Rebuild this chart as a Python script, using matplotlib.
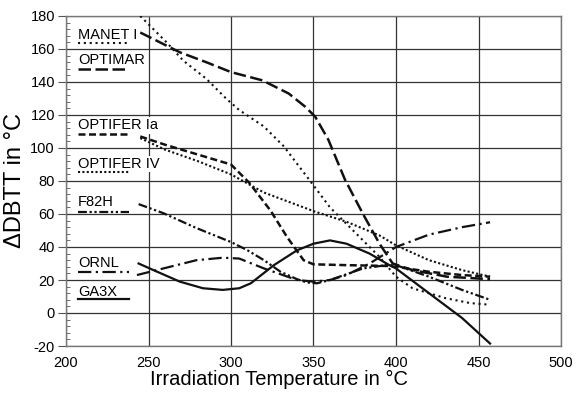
import matplotlib
matplotlib.use('Agg')
import matplotlib.pyplot as plt
from matplotlib.ticker import MultipleLocator

plt.rcParams['font.family'] = ['Liberation Sans', 'DejaVu Sans']
plt.rcParams['axes.unicode_minus'] = False

# curves (temperature in degC, delta DBTT in degC)
manet_t = [245, 251, 261, 271, 285, 297, 305, 320, 332, 348, 360, 372, 384, 390, 400, 410, 430, 445, 457]
manet_v = [180, 174, 164, 153, 142, 130, 123, 113, 101, 80, 64, 52, 40, 34, 22, 15, 9, 6, 5]

optimar_t = [245, 255, 269, 285, 300, 319, 335, 345, 351, 359, 369, 380, 390, 398, 410, 431, 457]
optimar_v = [170, 165, 158, 152, 146, 141, 133, 125, 119, 105, 81, 60, 42, 30, 26, 22, 20.5]

optifer_ia_t = [245, 260, 280, 300, 311, 324, 334, 344, 350, 370, 395, 400, 420, 440, 457]
optifer_ia_v = [107, 102, 96, 90, 79, 62, 46, 32, 29.5, 29, 28.5, 28, 25, 23, 22]

optifer_iv_t = [245, 260, 280, 300, 320, 340, 351, 370, 390, 400, 420, 440, 457]
optifer_iv_v = [106, 99, 92, 84, 73, 65.5, 61.4, 55.3, 47, 41, 32, 26, 22]

f82h_t = [244, 259, 279, 300, 310, 320, 330, 340, 346, 352, 360, 370, 380, 394, 400, 420, 440, 457]
f82h_v = [66, 60.5, 51.5, 43, 38, 32, 25, 20.5, 18.5, 18, 20, 23.5, 27, 29, 29, 22, 14, 8]

ornl_t = [243, 259, 279, 295, 305, 320, 330, 340, 350, 360, 370, 384, 400, 420, 440, 457]
ornl_v = [23, 27, 32, 33.5, 33, 27, 23.5, 20, 19, 20, 23, 30, 40, 47.5, 52, 55]

ga3x_t = [244, 253, 269, 283, 295, 305, 312, 326, 340, 350, 360, 370, 384, 396, 400, 420, 440, 457]
ga3x_v = [30, 26, 19, 15, 14, 15, 18, 29, 38, 42, 44, 42, 36, 29, 27, 12, -3, -18.5]

names = ['MANET I', 'OPTIMAR', 'OPTIFER Ia', 'OPTIFER IV', 'F82H', 'ORNL', 'GA3X']
curves = [(manet_t, manet_v), (optimar_t, optimar_v), (optifer_ia_t, optifer_ia_v),
          (optifer_iv_t, optifer_iv_v), (f82h_t, f82h_v), (ornl_t, ornl_v), (ga3x_t, ga3x_v)]

# line look and the position of each hand-made legend entry
styles = [dict(ls=(0, (1, 1.8)), lw=1.5),
          dict(ls=(0, (5, 1.8)), lw=1.8),
          dict(ls=(0, (2.8, 1.4)), lw=1.8),
          dict(ls=(0, (1, 1.1)), lw=1.5),
          dict(ls=(0, (4, 1.2, 1, 1.2, 1, 1.2)), lw=1.6),
          dict(ls=(0, (6, 2, 1, 2)), lw=1.6),
          dict(ls='-', lw=1.6)]
label_y = [168.5, 153.5, 113.8, 90.3, 67, 30.3, 12.7]
key_y = [163.5, 147.9, 108.3, 85.6, 61.4, 24.7, 8.3]

fig = plt.figure(figsize=(5.84, 3.96), dpi=100)
ax = fig.add_axes([66 / 584, 1 - 346 / 396, 495 / 584, 330 / 396])

for (t, v), st in zip(curves, styles):
    ax.plot(t, v, color='#111111', linestyle=st['ls'], lw=st['lw'], zorder=3)

for name, st, ly, ky in zip(names, styles, label_y, key_y):
    ax.text(207.3, ly, name, fontsize=10.5, va='center', ha='left', zorder=4,
            bbox=dict(facecolor='white', edgecolor='none', pad=1.0))
    ax.plot([207.3, 238], [ky, ky], color='#111111', linestyle=st['ls'], lw=st['lw'], zorder=5)

ax.set_xlim(200, 500)
ax.set_ylim(-20, 180)
ax.xaxis.set_major_locator(MultipleLocator(50))
ax.yaxis.set_major_locator(MultipleLocator(20))
ax.yaxis.set_minor_locator(MultipleLocator(4))
ax.grid(True, which='major', color='#333333', lw=0.9, zorder=1)
ax.set_axisbelow(True)
for sp in ax.spines.values():
    sp.set_color('#777777')
    sp.set_linewidth(1.0)
ax.tick_params(axis='x', length=0, pad=7, labelsize=10.5)
ax.tick_params(axis='y', which='major', direction='out', length=6, color='#555555',
               pad=2, labelsize=10.5)
ax.tick_params(axis='y', which='minor', direction='in', length=3, color='#555555')

ax.set_xlabel('Irradiation Temperature in °C', fontsize=14.5)
ax.xaxis.set_label_coords(0.43, -0.072)
ax.set_ylabel('ΔDBTT in °C', fontsize=17)
ax.yaxis.set_label_coords(-0.08, 0.5)

fig.savefig('out.png', dpi=100)
